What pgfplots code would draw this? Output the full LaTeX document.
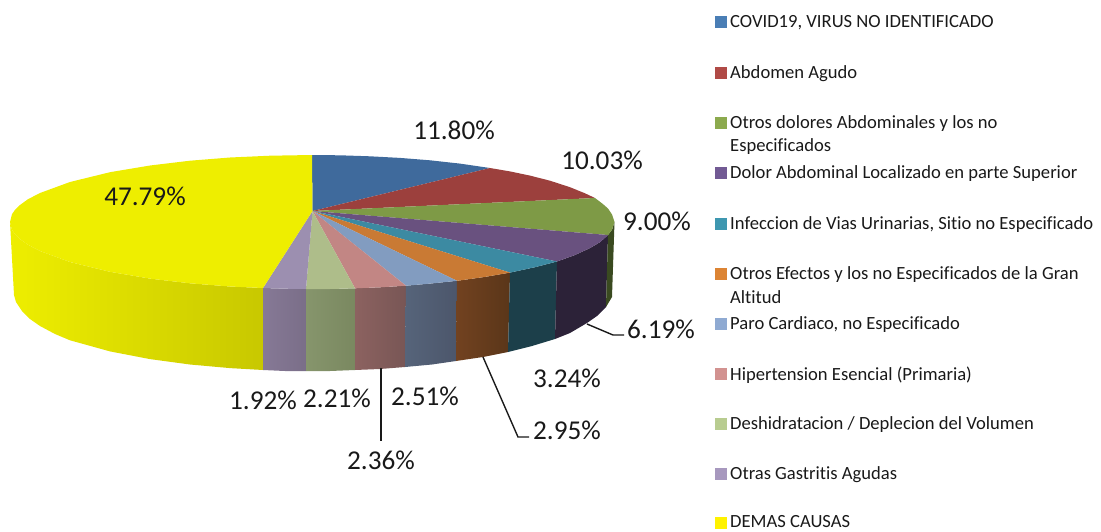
\documentclass[border=0pt]{standalone}
\usepackage{pgfplots}
\pgfplotsset{compat=1.18}
\usepackage{fontspec}
\setmainfont[Ligatures=CommonOff]{Carlito}
\definecolor{cBlue}{HTML}{3F6A9C}\definecolor{cRed}{HTML}{9C403D}\definecolor{cGreen}{HTML}{7E9A46}
\definecolor{cPurple}{HTML}{69517F}\definecolor{cTeal}{HTML}{3C8AA2}\definecolor{cOrange}{HTML}{C97A34}
\definecolor{cLB}{HTML}{829CC0}\definecolor{cPink}{HTML}{C28684}\definecolor{cLG}{HTML}{AEBD8A}
\definecolor{cLP}{HTML}{9C8FB0}\definecolor{cYel}{HTML}{EEEE00}
\definecolor{lBlue}{HTML}{4A7EB5}\definecolor{lRed}{HTML}{B04A46}\definecolor{lGreen}{HTML}{8CAA4E}
\definecolor{lPurple}{HTML}{725A94}\definecolor{lTeal}{HTML}{3E97B0}\definecolor{lOrange}{HTML}{DC8434}
\definecolor{lLB}{HTML}{8FAAD2}\definecolor{lPink}{HTML}{D29290}\definecolor{lLG}{HTML}{B8CC90}
\definecolor{lLP}{HTML}{A798BE}
\newcommand{\lab}[3]{\node[font=\fontsize{27.2}{29}\selectfont,text=black!90,inner sep=0pt] at (axis cs:#1,#2) {#3};}
\newcommand{\leg}[2]{\node[font=\fontsize{18.6}{20}\selectfont,text=black!90,anchor=west,inner sep=0pt] at (axis cs:730,#1) {#2};}
\newcommand{\sq}[2]{\addplot[only marks,mark=square*,mark size=5.5pt,mark options={fill=#1,draw=#1,line width=0pt}] coordinates {(720.5,#2)};}
\begin{document}
\begin{tikzpicture}
\path[use as bounding box] (0,0) rectangle (1101pt,531pt);
\begin{axis}[hide axis,scale only axis,width=1101pt,height=531pt,xmin=0,xmax=1101,ymin=0,ymax=531,y dir=reverse,clip=false,anchor=south west,at={(0,0)}]
% side faces
\addplot[draw=none,left color=cYel,right color=cYel!84!black] coordinates {(10,222)(12,229.8)(15,234.2)(20,239)(28,244.8)(40,251)(70,262)(110,271.8)(150,278.6)(190,283.3)(230,286.5)(263,288)(263,370)(230,368.1)(190,364.5)(150,359.1)(110,351.4)(70,340.3)(55,334)(40,326)(30,319)(22,311)(16,302)(14,295)} -- cycle;
\addplot[draw=none,left color={rgb,255:red,134;green,121;blue,150},right color={rgb,255:red,122;green,110;blue,136}] coordinates {(263,288)(285,288.7)(306,289)(306,371)(285,371)(263,370)} -- cycle;
\addplot[draw=none,left color={rgb,255:red,134;green,149;blue,108},right color={rgb,255:red,122;green,136;blue,96}] coordinates {(306,289)(330,289)(355,288.3)(355,370)(330,371)(306,371)} -- cycle;
\addplot[draw=none,left color={rgb,255:red,140;green,98;blue,96},right color={rgb,255:red,120;green,86;blue,85}] coordinates {(355,288.3)(380,287.3)(406,285.7)(405,367)(380,369)(355,370)} -- cycle;
\addplot[draw=none,left color={rgb,255:red,86;green,100;blue,122},right color={rgb,255:red,76;green,86;blue,107}] coordinates {(406,285.7)(430,283.6)(457,280.8)(456,361)(432,364.5)(405,367)} -- cycle;
\addplot[draw=none,left color={rgb,255:red,114;green,66;blue,32},right color={rgb,255:red,90;green,54;blue,25}] coordinates {(457,280.8)(485,276.9)(510,272.6)(508,352)(483,357)(456,361)} -- cycle;
\addplot[draw=none,fill={rgb,255:red,28;green,63;blue,74}] coordinates {(510,272.6)(535,267.2)(557,261.5)(555,339)(532,346)(508,352)} -- cycle;
\addplot[draw=none,fill={rgb,255:red,44;green,34;blue,56}] coordinates {(557,261.5)(575,255)(590,248.1)(600,242.2)(608,235)(606,307)(597,316)(587,323)(570,333)(555,339)} -- cycle;
\addplot[draw=none,fill={rgb,255:red,58;green,74;blue,32}] coordinates {(608,235)(612,229.8)(614.5,222)(612,297)(606,307)} -- cycle;
% top faces
\addplot[draw=none,fill=cBlue] coordinates {(312.5,211)(312,155)(340,155.3)(370,156.3)(400,157.9)(430,160.3)(460,163.6)(490,168)} -- cycle;
\addplot[draw=none,fill=cRed] coordinates {(312.5,211)(490,168)(510,171.4)(530,175.6)(550,180.7)(570,187.2)(585,193.3)(595,198)} -- cycle;
\addplot[draw=none,fill=cGreen] coordinates {(312.5,211)(595,198)(603,204.1)(608,208.5)(612,214.5)(614.5,222)(612,229.8)(608,235)} -- cycle;
\addplot[draw=none,fill=cPurple] coordinates {(312.5,211)(608,235)(600,242.2)(590,248.1)(575,255)(557,261.5)} -- cycle;
\addplot[draw=none,fill=cTeal] coordinates {(312.5,211)(557,261.5)(535,267.2)(510,272.6)} -- cycle;
\addplot[draw=none,fill=cOrange] coordinates {(312.5,211)(510,272.6)(485,276.9)(457,280.8)} -- cycle;
\addplot[draw=none,fill=cLB] coordinates {(312.5,211)(457,280.8)(430,283.6)(406,285.7)} -- cycle;
\addplot[draw=none,fill=cPink] coordinates {(312.5,211)(406,285.7)(380,287.3)(355,288.3)} -- cycle;
\addplot[draw=none,fill=cLG] coordinates {(312.5,211)(355,288.3)(330,289)(306,289)} -- cycle;
\addplot[draw=none,fill=cLP] coordinates {(312.5,211)(306,289)(285,288.7)(263,288)} -- cycle;
\addplot[draw=none,fill=cYel] coordinates {(312.5,211)(263,288)(230,286.5)(190,283.3)(150,278.6)(110,271.8)(70,262)(40,251)(28,244.8)(20,239)(15,234.2)(12,229.8)(10,222)(12,214.2)(15,209.8)(20,205)(28,199.2)(40,193)(70,182)(110,172.2)(150,165.5)(190,160.7)(230,157.5)(270,155.7)(312,155)} -- cycle;
% leader lines
\addplot[black!90,line width=1.4pt] coordinates {(587,324)(613,335)(624,335)};
\addplot[black!90,line width=1.4pt] coordinates {(483,357)(518,437)(529,437)};
\addplot[black!90,line width=1.4pt] coordinates {(381,368)(381,441)};
% labels
\lab{454}{130}{11.80\%}
\lab{602}{160}{10.03\%}
\lab{657}{221}{9.00\%}
\lab{661}{329}{6.19\%}
\lab{567}{378}{3.24\%}
\lab{567}{430}{2.95\%}
\lab{425}{396}{2.51\%}
\lab{381}{460}{2.36\%}
\lab{337}{398}{2.21\%}
\lab{263}{400}{1.92\%}
\lab{145}{196}{47.79\%}
% legend
\sq{lBlue}{22}\sq{lRed}{73}\sq{lGreen}{123}\sq{lPurple}{173}\sq{lTeal}{224}\sq{lOrange}{274}
\sq{lLB}{324}\sq{lPink}{374}\sq{lLG}{424}\sq{lLP}{474}\sq{yellow}{523}
\leg{23}{COVID19, VIRUS NO IDENTIFICADO}
\leg{74}{Abdomen Agudo}
\leg{124}{Otros dolores Abdominales y los no}
\leg{147}{Especificados}
\leg{174}{Dolor Abdominal Localizado en parte Superior}
\leg{225}{Infeccion de Vias Urinarias, Sitio no Especificado}
\leg{275}{Otros Efectos y los no Especificados de la Gran}
\leg{297}{Altitud}
\leg{325}{Paro Cardiaco, no Especificado}
\leg{375}{Hipertension Esencial (Primaria)}
\leg{425}{Deshidratacion / Deplecion del Volumen}
\leg{475}{Otras Gastritis Agudas}
\leg{521.5}{DEMAS CAUSAS}
\end{axis}
\end{tikzpicture}
\end{document}
